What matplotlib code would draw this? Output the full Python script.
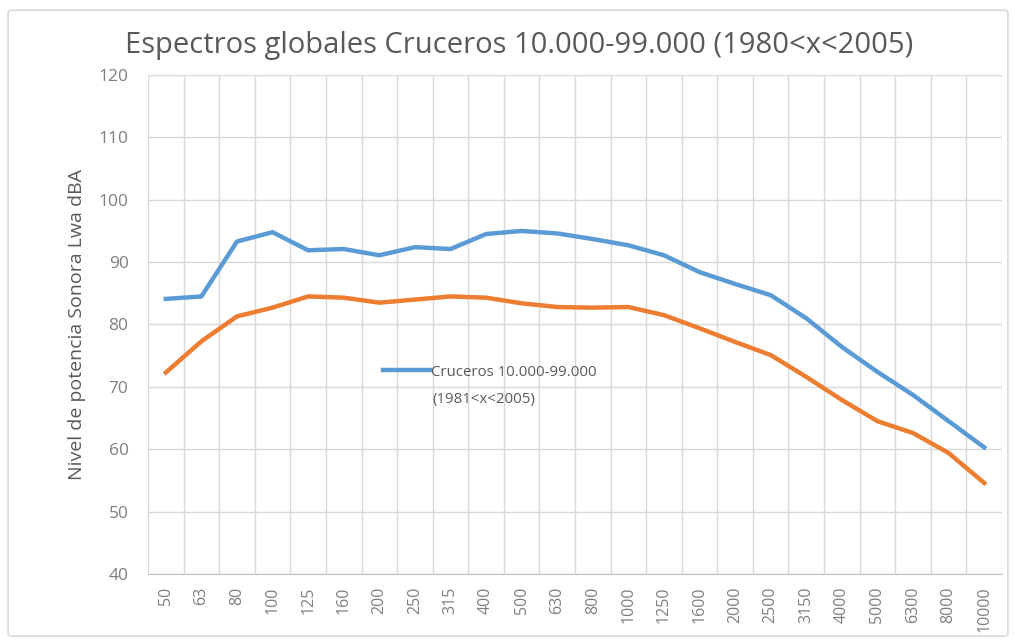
import matplotlib
matplotlib.use("Agg")
import matplotlib.pyplot as plt
from matplotlib.patches import FancyBboxPatch
from matplotlib.lines import Line2D

categories = ["50", "63", "80", "100", "125", "160", "200", "250", "315", "400", "500",
              "630", "800", "1000", "1250", "1600", "2000", "2500", "3150", "4000",
              "5000", "6300", "8000", "10000"]
blue_values = [84.1, 84.5, 93.3, 94.8, 91.9, 92.1, 91.1, 92.4, 92.1, 94.5, 95.0,
               94.6, 93.7, 92.7, 91.1, 88.4, 86.5, 84.7, 81.0, 76.4, 72.4, 68.7, 64.5, 60.3]
orange_values = [72.3, 77.3, 81.3, 82.7, 84.5, 84.3, 83.5, 84.0, 84.5, 84.3, 83.4,
                 82.8, 82.7, 82.8, 81.5, 79.4, 77.2, 75.1, 71.6, 67.9, 64.5, 62.6, 59.4, 54.6]
y_ticks = [40, 50, 60, 70, 80, 90, 100, 110, 120]
title = "Espectros globales Cruceros 10.000-99.000 (1980<x<2005)"
ylabel = "Nivel de potencia Sonora Lwa dBA"
legend_label = "Cruceros 10.000-99.000"
legend_label_line2 = "(1981<x<2005)"

plt.rcParams['font.family'] = ['Open Sans', 'DejaVu Sans']

fig = plt.figure(figsize=(10.15, 6.4), dpi=100)
fig.patch.set_facecolor("white")

# chart border
border = FancyBboxPatch((0.008, 0.006), 0.985, 0.978, boxstyle="round,pad=0,rounding_size=0.004",
                        transform=fig.transFigure, fill=False, edgecolor="#d9d9d9", linewidth=1.2)
fig.patches.append(border)

ax = fig.add_axes([148 / 1015, 1 - 574 / 640, (1002 - 148) / 1015, (574 - 75) / 640])

x = list(range(len(categories)))
ax.plot(x, blue_values, color="#5B9BD5", linewidth=3.2, solid_joinstyle="round", zorder=3)
ax.plot(x, orange_values, color="#ED7D31", linewidth=3.2, solid_joinstyle="round", zorder=3)

ax.set_xlim(-0.5, len(categories) - 0.5)
ax.set_ylim(40, 120)
ax.set_yticks(y_ticks)
ax.set_yticklabels([str(v) for v in y_ticks], color="#7f7f7f", fontsize=12.5)
ax.set_xticks(x)
ax.set_xticklabels(categories, rotation=90, color="#7f7f7f", fontsize=11.5)

# grid: horizontal at ticks, vertical between categories
for v in y_ticks:
    ax.axhline(v, color="#d9d9d9", linewidth=1.0, zorder=1)
for i in range(len(categories) + 1):
    ax.axvline(i - 0.5, color="#d9d9d9", linewidth=1.0, zorder=1)

for s in ["top", "right", "left"]:
    ax.spines[s].set_visible(False)
ax.spines["bottom"].set_color("#bfbfbf")
ax.tick_params(axis="both", length=0)
ax.tick_params(axis="y", pad=14)
ax.tick_params(axis="x", pad=9)

ax.set_ylabel(ylabel, color="#595959", fontsize=14, labelpad=9)
fig.text(0.511, 1 - 46 / 640, title, ha="center", va="center", fontsize=21, color="#595959")

handle = Line2D([0], [0], color="#5B9BD5", linewidth=3.2)
leg = ax.legend([handle], [legend_label], loc="center left",
                bbox_to_anchor=(383 / 1015, 1 - 372 / 640), bbox_transform=fig.transFigure,
                frameon=False, fontsize=10.8, handlelength=3.1, handletextpad=0.1,
                labelcolor="#595959", borderpad=0, borderaxespad=0)
fig.text(432 / 1015, 1 - 399 / 640, legend_label_line2, ha="left", va="center",
         fontsize=10.8, color="#595959")

fig.savefig("out.png", dpi=100)
